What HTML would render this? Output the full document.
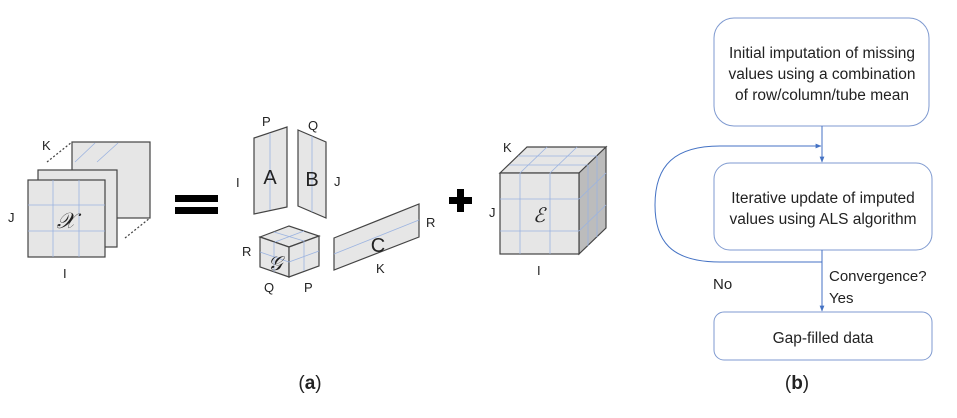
<!DOCTYPE html>
<html><head><style>
body{margin:0;background:#fff;}
svg text{font-family:"Liberation Sans",sans-serif;fill:#222;}
</style></head><body>
<svg width="957" height="413" viewBox="0 0 957 413" xmlns="http://www.w3.org/2000/svg">
<defs><marker id="ah" viewBox="0 0 10 10" refX="9" refY="5" markerWidth="6" markerHeight="6" orient="auto"><path d="M0,1 L10,5 L0,9 z" fill="#4472c4"/></marker></defs>
<g stroke="#444" stroke-width="1.2" fill="#e6e6e6">
<rect x="72" y="142" width="78" height="76"/>
<line x1="75" y1="162" x2="95" y2="143" stroke="#9bb3e0" stroke-width="0.8"/>
<line x1="97" y1="162" x2="118" y2="143" stroke="#9bb3e0" stroke-width="0.8"/>
<rect x="38" y="170" width="79" height="77"/>
<rect x="28" y="180" width="77" height="77"/>
<line x1="47" y1="162" x2="72" y2="142" stroke-dasharray="2,2"/>
<line x1="125" y1="238" x2="150" y2="218" stroke-dasharray="2,2"/>
</g>
<g stroke="#9bb3e0" stroke-width="0.8">
<line x1="53" y1="180" x2="53" y2="257"/><line x1="79" y1="180" x2="79" y2="257"/>
<line x1="28" y1="205" x2="105" y2="205"/><line x1="28" y1="231" x2="105" y2="231"/>
</g>
<text x="66" y="228" font-family="Liberation Serif" font-style="italic" font-size="22" text-anchor="middle">𝒳</text>
<g font-size="13"><text x="42" y="150">K</text><text x="8" y="222">J</text><text x="63" y="278">I</text></g>
<rect x="175" y="195" width="43" height="7" fill="#000"/><rect x="175" y="207" width="43" height="7" fill="#000"/>
<g stroke="#444" stroke-width="1.2" fill="#e6e6e6">
<polygon points="254,138 287,127 287,207 254,214"/>
<polygon points="298,130 326,142 326,218 298,206"/>
<polygon points="260,237 289,226 319,236 289,247"/>
<polygon points="260,237 289,247 289,277 260,267"/>
<polygon points="289,247 319,236 319,266 289,277"/>
<polygon points="334,238 419,204 419,237 334,270"/>
</g>
<g stroke="#9bb3e0" stroke-width="0.8" fill="none">
<line x1="270" y1="133" x2="270" y2="210"/><line x1="312" y1="136" x2="312" y2="212"/>
<line x1="334" y1="254" x2="419" y2="220"/>
<line x1="274" y1="242" x2="274" y2="272"/><line x1="260" y1="252" x2="289" y2="262"/>
<line x1="304" y1="241" x2="304" y2="271"/><line x1="289" y1="262" x2="319" y2="251"/>
<line x1="274" y1="232" x2="304" y2="241"/><line x1="275" y1="242" x2="304" y2="231"/>
</g>
<text x="270" y="184" font-size="20" text-anchor="middle">A</text>
<text x="312" y="186" font-size="20" text-anchor="middle">B</text>
<text x="378" y="252" font-size="20" text-anchor="middle">C</text>
<text x="275" y="270" font-family="Liberation Serif" font-style="italic" font-size="20" text-anchor="middle">𝒢</text>
<g font-size="13">
<text x="262" y="126">P</text><text x="308" y="130">Q</text><text x="236" y="187">I</text><text x="334" y="186">J</text>
<text x="242" y="256">R</text><text x="264" y="292">Q</text><text x="304" y="292">P</text>
<text x="426" y="227">R</text><text x="376" y="273">K</text>
</g>
<rect x="449" y="197" width="23" height="7" fill="#000"/><rect x="457" y="189" width="7" height="23" fill="#000"/>
<g stroke="#444" stroke-width="1.2">
<polygon points="500,173 527,147 606,147 579,173" fill="#e6e6e6"/>
<polygon points="579,173 606,147 606,228 579,254" fill="#bcbcbc"/>
<rect x="500" y="173" width="79" height="81" fill="#e6e6e6"/>
</g>
<g stroke="#9bb3e0" stroke-width="0.8">
<line x1="520" y1="173" x2="520" y2="254"/><line x1="550" y1="173" x2="550" y2="254"/>
<line x1="500" y1="199" x2="579" y2="199"/><line x1="500" y1="231" x2="579" y2="231"/>
<line x1="520" y1="173" x2="547" y2="147"/><line x1="550" y1="173" x2="577" y2="147"/>
<line x1="509" y1="165" x2="588" y2="165"/><line x1="518" y1="156" x2="597" y2="156"/>
<line x1="588" y1="165" x2="588" y2="246"/><line x1="597" y1="156" x2="597" y2="237"/>
<line x1="579" y1="199" x2="606" y2="173"/><line x1="579" y1="231" x2="606" y2="205"/>
</g>
<text x="539" y="222" font-family="Liberation Serif" font-style="italic" font-size="20" text-anchor="middle">ℰ</text>
<g font-size="13"><text x="503" y="152">K</text><text x="489" y="217">J</text><text x="537" y="275">I</text></g>
<text x="310" y="389" font-family="Liberation Serif" font-size="19" text-anchor="middle">(<tspan font-weight="bold">a</tspan>)</text>
<g fill="#fff" stroke="#7f9ad0" stroke-width="1">
<rect x="714" y="18" width="215" height="108" rx="20"/>
<rect x="714" y="163" width="218" height="87" rx="16"/>
<rect x="714" y="312" width="218" height="48" rx="10"/>
</g>
<g stroke="#4472c4" stroke-width="1" fill="none">
<line x1="822" y1="126" x2="822" y2="162" marker-end="url(#ah)"/>
<line x1="822" y1="250" x2="822" y2="311" marker-end="url(#ah)"/>
<path d="M822,262 L720,262 C670,262 655,240 655,205 C655,165 675,146 720,146 L821,146" marker-end="url(#ah)"/>
</g>
<g font-size="15.5" text-anchor="middle">
<text x="822" y="58">Initial imputation of missing</text>
<text x="822" y="79">values using a combination</text>
<text x="822" y="100">of row/column/tube mean</text>
<text x="823" y="203">Iterative update of imputed</text>
<text x="823" y="224">values using ALS algorithm</text>
<text x="823" y="343">Gap-filled data</text>
</g>
<g font-size="15"><text x="829" y="281">Convergence?</text><text x="829" y="303">Yes</text><text x="713" y="289">No</text></g>
<text x="797" y="389" font-family="Liberation Serif" font-size="19" text-anchor="middle">(<tspan font-weight="bold">b</tspan>)</text>
</svg>
</body></html>
